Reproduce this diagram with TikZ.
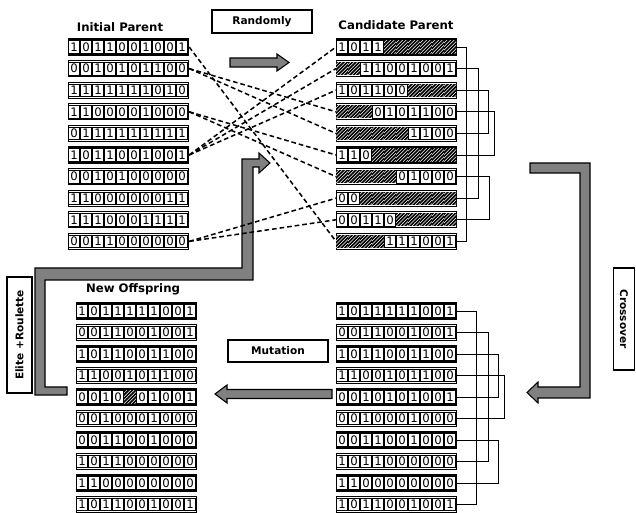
\documentclass[tikz,border=0pt]{standalone}
\usepackage{fontspec}
\setmainfont{DejaVu Sans}

\tikzset{
  cell/.style={draw, line width=0.6pt, minimum width=0.31cm, minimum height=0.38cm,
    inner sep=0pt, font=\fontsize{10}{10}\selectfont},
  hatchcell/.style={draw=none, minimum width=0.36cm, minimum height=0.40cm, inner sep=0pt,
    fill=black, path picture={
      \foreach \h in {-12,-9,...,9}
        \draw[white, line width=0.45pt] ([xshift=\h pt]path picture bounding box.south west) -- ++(14pt,14pt);
    }},
  rowbox/.style={draw, line width=1pt, minimum width=3.6cm, minimum height=0.48cm, inner sep=0pt},
  title/.style={font=\bfseries\fontsize{10}{12}\selectfont},
  tag/.style={draw, line width=0.9pt, inner sep=0pt, font=\bfseries\fontsize{9}{11}\selectfont},
  pick/.style={line width=1.3pt, dash pattern=on 4pt off 2.5pt},
  pair/.style={line width=0.8pt},
  bigarrow/.style={fill=black!50, draw=black, line width=0.9pt, line join=miter},
}

\newcommand{\bitrow}[4]{%
  \node[rowbox, anchor=west] (#1) at ({#2},{#3}) {};
  \foreach \bit [count=\k] in #4 {
    \if x\bit
      \node[hatchcell] (#1-\k) at ({#2+12*\k-6},{#3}) {};
    \else
      \node[cell] (#1-\k) at ({#2+12*\k-6},{#3}) {\bit};
    \fi
  }%
}

\begin{document}
\begin{tikzpicture}[x=0.03cm, y=-0.03cm]
  \useasboundingbox (0,0) rectangle (636,513);

  \node[title] (initTitle) at (120,27) {Initial Parent};
  \node[title] (candTitle) at (396,25) {Candidate Parent};
  \node[title] (offTitle) at (133,289) {New Offspring};

  \node[tag, minimum width=3cm, minimum height=0.69cm] (randomly) at (262,21.5) {Randomly};
  \node[tag, minimum width=3cm, minimum height=0.66cm] (mutation) at (278,351) {Mutation};
  \node[tag, rotate=-90, minimum width=3.06cm, minimum height=0.63cm] (crossover) at (624,319) {Crossover};
  \node[tag, rotate=90, minimum width=3.48cm, minimum height=0.75cm] (elite) at (19.5,335) {Elite +Roulette};

  % gray block arrows
  \filldraw[bigarrow] (230,58) -- (277,58) -- (277,54) -- (289,62.5) -- (277,71)
    -- (277,67) -- (230,67) -- cycle;
  \filldraw[bigarrow] (530,163) -- (590,163) -- (590,398) -- (538,398) -- (538,403)
    -- (527,392.5) -- (538,382) -- (538,387) -- (580,387) -- (580,173) -- (530,173) -- cycle;
  \filldraw[bigarrow] (332,389.5) -- (227,389.5) -- (227,385) -- (215,394) -- (227,403)
    -- (227,398.5) -- (332,398.5) -- cycle;
  \filldraw[bigarrow] (67,395) -- (35,395) -- (35,268) -- (242,268) -- (242,159) -- (259,159)
    -- (259,153) -- (270,163) -- (259,173) -- (259,167) -- (253,167) -- (253,280)
    -- (45,280) -- (45,387) -- (67,387) -- cycle;

  \foreach \i/\bits in {1/{1,0,1,1,0,0,1,0,0,1}, 2/{0,0,1,0,1,0,1,1,0,0},
      3/{1,1,1,1,1,1,1,0,1,0}, 4/{1,1,0,0,0,0,1,0,0,0}, 5/{0,1,1,1,1,1,1,1,1,1},
      6/{1,0,1,1,0,0,1,0,0,1}, 7/{0,0,1,0,1,0,0,0,0,0}, 8/{1,1,0,0,0,0,0,0,1,1},
      9/{1,1,1,0,0,0,1,1,1,1}, 10/{0,0,1,1,0,0,0,0,0,0}}
    {\bitrow{ip\i}{68}{47+21.6*(\i-1)}{\bits}}

  \foreach \i/\bits in {1/{1,0,1,1,x,x,x,x,x,x}, 2/{x,x,1,1,0,0,1,0,0,1},
      3/{1,0,1,1,0,0,x,x,x,x}, 4/{x,x,x,0,1,0,1,1,0,0}, 5/{x,x,x,x,x,x,1,1,0,0},
      6/{1,1,0,x,x,x,x,x,x,x}, 7/{x,x,x,x,x,0,1,0,0,0}, 8/{0,0,x,x,x,x,x,x,x,x},
      9/{0,0,1,1,0,x,x,x,x,x}, 10/{x,x,x,x,1,1,1,0,0,1}}
    {\bitrow{cp\i}{336}{47+21.6*(\i-1)}{\bits}}

  \foreach \i/\bits in {1/{1,0,1,1,1,1,1,0,0,1}, 2/{0,0,1,1,0,0,1,0,0,1},
      3/{1,0,1,1,0,0,1,1,0,0}, 4/{1,1,0,0,1,0,1,1,0,0}, 5/{0,0,1,0,1,0,1,0,0,1},
      6/{0,0,1,0,0,0,1,0,0,0}, 7/{0,0,1,1,0,0,1,0,0,0}, 8/{1,0,1,1,0,0,0,0,0,0},
      9/{1,1,0,0,0,0,0,0,0,0}, 10/{1,0,1,1,0,0,1,0,0,1}}
    {\bitrow{co\i}{336}{311+21.5*(\i-1)}{\bits}}

  \foreach \i/\bits in {1/{1,0,1,1,1,1,1,0,0,1}, 2/{0,0,1,1,0,0,1,0,0,1},
      3/{1,0,1,1,0,0,1,1,0,0}, 4/{1,1,0,0,1,0,1,1,0,0}, 5/{0,0,1,0,x,0,1,0,0,1},
      6/{0,0,1,0,0,0,1,0,0,0}, 7/{0,0,1,1,0,0,1,0,0,0}, 8/{1,0,1,1,0,0,0,0,0,0},
      9/{1,1,0,0,0,0,0,0,0,0}, 10/{1,0,1,1,0,0,1,0,0,1}}
    {\bitrow{no\i}{76}{311+21.5*(\i-1)}{\bits}}

  % random selection
  \foreach \s/\t in {1/10, 2/4, 2/5, 4/6, 4/7, 6/1, 6/2, 6/3, 10/8, 10/9}
    \draw[pick] (ip\s.east) -- (cp\t.west);

  % crossover pairs
  \foreach \p/\q/\d in {1/10/9, 2/8/21, 3/5/31, 4/6/37, 7/9/32}
    \draw[pair] (cp\p.east) -- ++(\d,0) |- (cp\q.east);
  \foreach \p/\q/\d in {1/10/19, 2/8/31, 3/5/41, 4/6/47, 7/9/41}
    \draw[pair] (co\p.east) -- ++(\d,0) |- (co\q.east);
\end{tikzpicture}
\end{document}
